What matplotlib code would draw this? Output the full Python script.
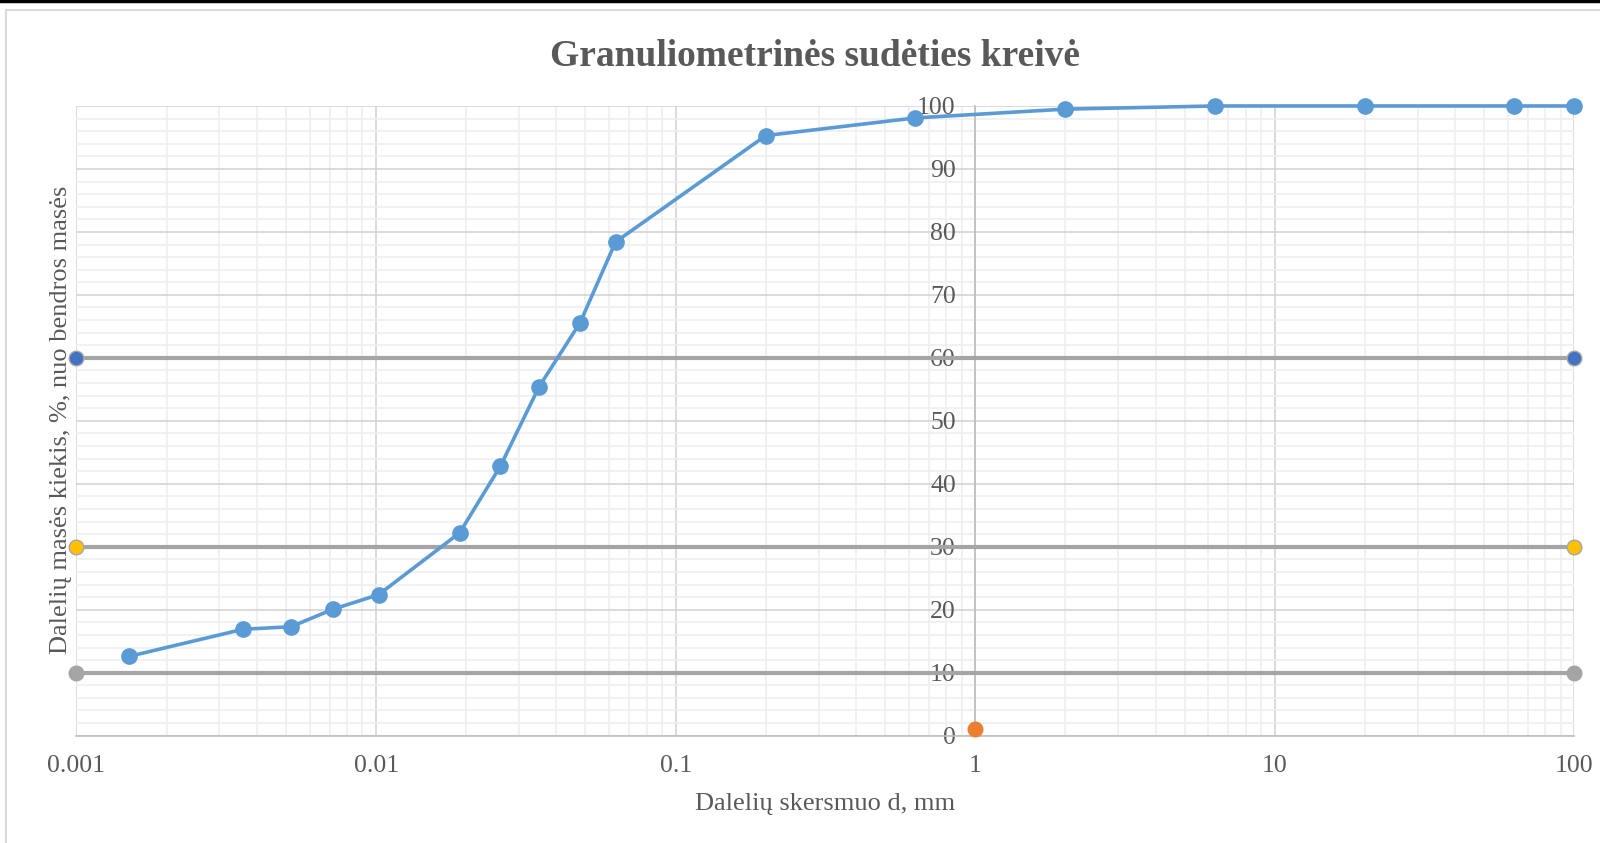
import numpy as np
import matplotlib
matplotlib.use('Agg')
import matplotlib.pyplot as plt
from matplotlib.ticker import FixedLocator, FuncFormatter, MultipleLocator
from matplotlib.lines import Line2D

plt.rcParams['font.family'] = ['Liberation Serif', 'DejaVu Serif']

# --------------------------
# DATA
# --------------------------
diameter_mm = [0.0015, 0.0036, 0.0052, 0.0072, 0.0102, 0.019, 0.026, 0.035,
               0.048, 0.063, 0.2, 0.63, 2, 6.3, 20, 63, 100]
passing_pct = [12.6, 16.9, 17.3, 20.1, 22.4, 32.2, 42.8, 55.4,
               65.6, 78.4, 95.3, 98.1, 99.5, 100, 100, 100, 100]

# reference levels d60, d30, d10
ref_x = [0.001, 100]
ref_levels = [60, 30, 10]
ref_marker_colors = ['#4472C4', '#FFC000', '#A5A5A5']

extra_x = [1]
extra_y = [1]

x_ticks = [0.001, 0.01, 0.1, 1, 10, 100]
x_tick_labels = ['0.001', '0.01', '0.1', '1', '10', '100']

text_col = '#595959'

# --------------------------
# PLOT
# --------------------------
fig = plt.figure(figsize=(16, 8.43), dpi=100)
ax = fig.add_axes([0.0478, 0.1273, 0.9362, 0.747])

ax.set_xscale('log')
ax.set_xlim(0.001, 100)
ax.set_ylim(0, 100)

# grid
ax.xaxis.set_major_locator(FixedLocator(x_ticks))
ax.xaxis.set_major_formatter(FuncFormatter(lambda v, p: x_tick_labels[x_ticks.index(v)] if v in x_ticks else ''))
minors = [m * 10.0 ** e for e in range(-3, 2) for m in range(2, 10)]
ax.xaxis.set_minor_locator(FixedLocator(minors))
ax.xaxis.set_minor_formatter(FuncFormatter(lambda v, p: ''))
ax.yaxis.set_major_locator(MultipleLocator(10))
ax.yaxis.set_minor_locator(MultipleLocator(2))
ax.grid(which='minor', color='#EFEFEF', lw=1.2, zorder=0)
ax.grid(which='major', color='#D4D4D4', lw=1.2, zorder=0)
ax.set_axisbelow(True)

# y axis crosses at x = 1
ax.spines['left'].set_position(('data', 1))
ax.spines['left'].set_color('#BFBFBF')
ax.spines['bottom'].set_color('#BFBFBF')
ax.spines['left'].set_linewidth(1.2)
ax.spines['bottom'].set_linewidth(1.2)
ax.spines['top'].set_visible(False)
ax.spines['right'].set_visible(False)

ax.tick_params(axis='both', which='both', length=0, labelsize=18.5, labelcolor=text_col)
ax.tick_params(axis='y', pad=14)
ax.tick_params(axis='x', pad=14)

# reference lines
for lvl, mc in zip(ref_levels, ref_marker_colors):
    ax.plot(ref_x, [lvl, lvl], color='#A5A5A5', lw=3, marker='o', ms=10.5,
            mfc=mc, mec='#A5A5A5', mew=1, clip_on=False, zorder=3)

# grading curve
ax.plot(diameter_mm, passing_pct, color='#5B9BD5', lw=2.6, marker='o', ms=11,
        mfc='#5B9BD5', mec='#5B9BD5', clip_on=False, zorder=4)

ax.plot(extra_x, extra_y, ls='none', marker='o', ms=10.5, mfc='#ED7D31',
        mec='#ED7D31', clip_on=False, zorder=4)

# titles
fig.text(815 / 1600, 1 - 57 / 843, 'Granuliometrinės sudėties kreivė', ha='center', va='center',
         fontsize=27, fontweight='bold', color=text_col)
fig.text(825.5 / 1600, 1 - 804 / 843, 'Dalelių skersmuo d, mm', ha='center', va='center',
         fontsize=19, color=text_col)
fig.text(61 / 1600, 1 - 420 / 843, 'Dalelių masės kiekis, %, nuo bendros masės', ha='center',
         va='center', rotation=90, fontsize=19, color=text_col)

# chart frame
fig.add_artist(Line2D([6 / 1600, 6 / 1600], [0, 1 - 9.5 / 843], transform=fig.transFigure,
                      color='#D9D9D9', lw=1.5))
fig.add_artist(Line2D([6 / 1600, 1], [1 - 9.5 / 843, 1 - 9.5 / 843], transform=fig.transFigure,
                      color='#D9D9D9', lw=1.5))
fig.add_artist(Line2D([0, 1], [1 - 1.2 / 843, 1 - 1.2 / 843], transform=fig.transFigure,
                      color='black', lw=2.5))

fig.savefig('out.png', dpi=100)
